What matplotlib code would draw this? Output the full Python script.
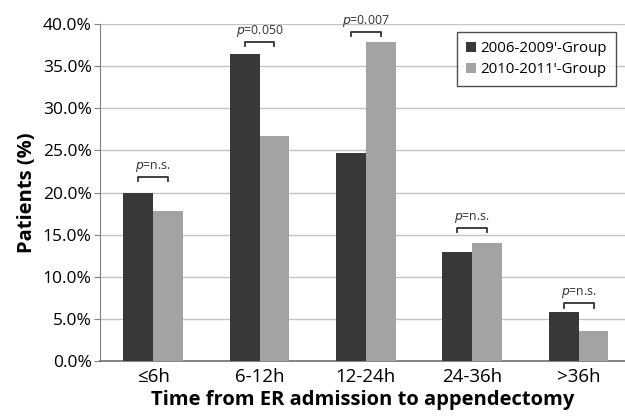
import matplotlib.pyplot as plt
import numpy as np
from matplotlib.ticker import FuncFormatter

plt.rcParams['font.family'] = ['Open Sans', 'DejaVu Sans']

# patients per time window (%)
categories = ['≤6h', '6-12h', '12-24h', '24-36h', '>36h']
group_0609 = [20.0, 36.5, 24.7, 12.9, 5.85]
group_1011 = [17.8, 26.7, 37.9, 14.0, 3.6]
p_labels = ['n.s.', '0.050', '0.007', 'n.s.', 'n.s.']
series_names = ["2006-2009'-Group", "2010-2011'-Group"]

# gap above the taller bar for each bracket
bracket_gap = [1.9, 1.4, 1.2, 1.8, 1.0]

fig = plt.figure(figsize=(6.25, 4.16), dpi=100)
ax = fig.add_axes([0.16, 0.132, 0.84, 0.81])

x = np.arange(len(categories))
w = 0.28
ax.bar(x - w/2, group_0609, w, color='#383838', label=series_names[0], zorder=3)
ax.bar(x + w/2, group_1011, w, color='#a3a3a3', label=series_names[1], zorder=3)

for i in range(len(categories)):
    top = max(group_0609[i], group_1011[i]) + bracket_gap[i]
    x0, x1 = x[i] - w/2, x[i] + w/2
    ax.plot([x0, x0, x1, x1], [top - 0.5, top, top, top - 0.5],
            color='#333333', lw=1.3, zorder=4, clip_on=False)
    ax.text(x[i], top + 0.35, '$p$=' + p_labels[i], ha='center', va='bottom',
            fontsize=8.8, color='#333333')

ax.set_ylim(0, 40)
ax.set_xlim(-0.5, 4.436)
ax.set_yticks(np.arange(0, 41, 5))
ax.yaxis.set_major_formatter(FuncFormatter(lambda v, pos: '%.1f%%' % v))
ax.set_xticks(x)
ax.set_xticklabels(categories)
ax.tick_params(axis='y', labelsize=12.5, length=4, color='#808080', pad=2)
ax.tick_params(axis='x', labelsize=13.5, length=0, pad=5)
ax.grid(axis='y', color='#c4c4c4', lw=1, zorder=0)

for s in ['top', 'right']:
    ax.spines[s].set_visible(False)
ax.spines['left'].set_color('#808080')
ax.spines['bottom'].set_color('#707070')
ax.spines['bottom'].set_linewidth(1.2)

ax.set_ylabel('Patients (%)', fontsize=14.5, fontweight='bold', labelpad=4)
ax.set_xlabel('Time from ER admission to appendectomy', fontsize=14.5,
              fontweight='bold', labelpad=3)

leg = ax.legend(loc='upper right', bbox_to_anchor=(0.983, 0.976), borderaxespad=0,
                fontsize=10.8, frameon=True, fancybox=False, edgecolor='#222222',
                handlelength=0.7, handleheight=0.7, handletextpad=0.3,
                borderpad=0.6, labelspacing=0.4)
leg.get_frame().set_linewidth(1.0)

fig.savefig('out.png', dpi=100)
